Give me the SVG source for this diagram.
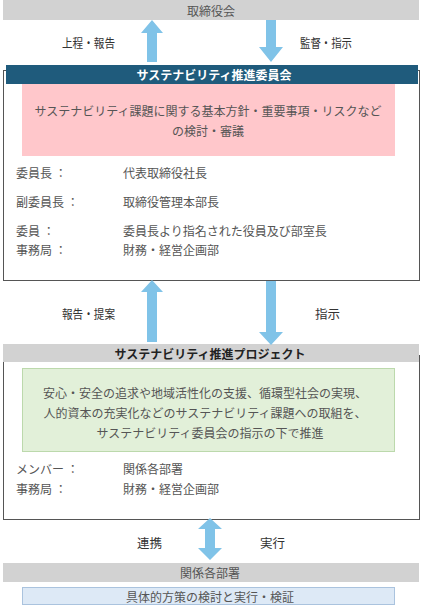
<svg xmlns="http://www.w3.org/2000/svg" width="427" height="607" viewBox="0 0 427 607">
<style>
text{font-family:"Noto Sans CJK JP","Noto Sans",sans-serif;font-size:12px;fill:#555;dominant-baseline:central}
.c{text-anchor:middle}
.lab{fill:#333;font-size:12.5px}
.hd{font-weight:bold;text-anchor:middle}
.bar{fill:#d2d2d2}
.frame{fill:#fff;stroke:#555;stroke-width:1}
.arr{fill:#80c3e8}
</style>
<rect width="427" height="607" fill="#fff"/>
<g id="board">
<rect class="bar" x="3" y="0" width="416" height="20"/>
<text class="c" x="211" y="10">取締役会</text>
</g>
<g id="committee">
<rect class="frame" x="3.5" y="70.5" width="416" height="210"/>
<rect x="6" y="65" width="412" height="19" fill="#1f5b7c"/>
<text class="hd" x="214" y="74.5" style="fill:#fff">サステナビリティ推進委員会</text>
<rect x="22" y="84" width="373" height="72" fill="#ffc7cb"/>
<text class="c" x="208" y="110">サステナビリティ課題に関する基本方針・重要事項・リスクなど</text>
<text class="c" x="208" y="130">の検討・審議</text>
<text x="16" y="172">委員長 ：</text><text x="123" y="172">代表取締役社長</text>
<text x="16" y="201">副委員長 ：</text><text x="123" y="201">取締役管理本部長</text>
<text x="16" y="230">委員 ：</text><text x="123" y="230">委員長より指名された役員及び部室長</text>
<text x="16" y="249">事務局 ：</text><text x="123" y="249">財務・経営企画部</text>
</g>
<g id="project">
<rect class="frame" x="3.5" y="355.5" width="416" height="164"/>
<rect class="bar" x="3" y="344" width="416" height="18"/>
<text class="hd" x="210" y="353" style="fill:#222">サステナビリティ推進プロジェクト</text>
<rect x="22.5" y="368.5" width="372" height="83" fill="#e2f0d9" stroke="#bcd9ac"/>
<text class="c" x="205" y="392">安心・安全の追求や地域活性化の支援、循環型社会の実現、</text>
<text class="c" x="205" y="412">人的資本の充実化などのサステナビリティ課題への取組を、</text>
<text class="c" x="210" y="432">サステナビリティ委員会の指示の下で推進</text>
<text x="16" y="468">メンバー ：</text><text x="123" y="468">関係各部署</text>
<text x="16" y="488">事務局 ：</text><text x="123" y="488">財務・経営企画部</text>
</g>
<g id="departments">
<rect class="bar" x="3" y="563" width="416" height="19"/>
<text class="c" x="210" y="572.5">関係各部署</text>
<rect x="22.5" y="587.5" width="372" height="17" fill="#dde9f6" stroke="#aac3de"/>
<text class="c" x="210" y="596">具体的方策の検討と実行・検証</text>
</g>
<g id="connectors">
<polygon class="arr" points="152,20 163,33 157,33 157,62 147,62 147,33 141,33"/>
<polygon class="arr" points="266,20 276,20 276,47 283,47 271,62 259,47 266,47"/>
<polygon class="arr" points="152,280 163,292 157,292 157,342 147,342 147,292 141,292"/>
<polygon class="arr" points="266,281 276,281 276,332 283,332 271,345 259,332 266,332"/>
<polygon class="arr" points="210,518 222,529 215,529 215,548 222,548 210,560 198,548 205,548 205,529 198,529"/>
<text class="lab" x="62" y="42" textLength="53" lengthAdjust="spacingAndGlyphs">上程・報告</text>
<text class="lab" x="300" y="42" textLength="52" lengthAdjust="spacingAndGlyphs">監督・指示</text>
<text class="lab" x="62" y="313" textLength="53" lengthAdjust="spacingAndGlyphs">報告・提案</text>
<text class="lab" x="315" y="313">指示</text>
<text class="lab" x="137" y="542">連携</text>
<text class="lab" x="260" y="542">実行</text>
</g>
</svg>
